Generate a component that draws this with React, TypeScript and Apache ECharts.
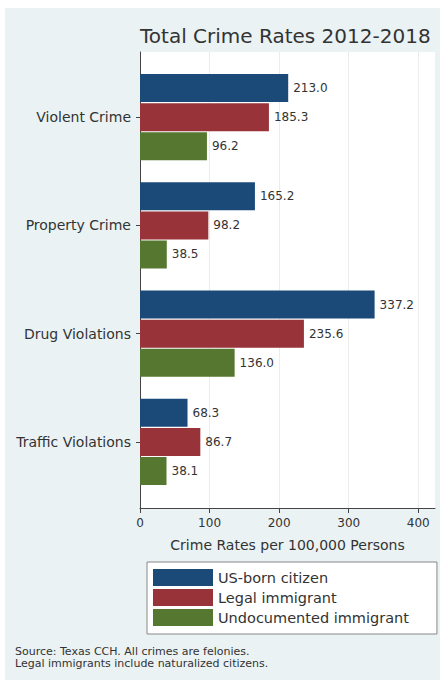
import React, { useEffect, useRef } from "react";
import * as echarts from "echarts";

const categories = ["Violent Crime", "Property Crime", "Drug Violations", "Traffic Violations"];
const seriesNames = ["US-born citizen", "Legal immigrant", "Undocumented immigrant"];
const usBorn = [213.0, 165.2, 337.2, 68.3];
const legalImmigrant = [185.3, 98.2, 235.6, 86.7];
const undocumented = [96.2, 38.5, 136.0, 38.1];
const xTicks = [0, 100, 200, 300, 400];
const colors = ["#1b4a78", "#983339", "#55772f"];
const titleText = "Total Crime Rates 2012-2018";
const axisTitle = "Crime Rates per 100,000 Persons";
const sourceLines = ["Source: Texas CCH. All crimes are felonies.", "Legal immigrants include naturalized citizens."];

const FONT = "DejaVu Sans";

export default function App() {
  const ref = useRef<HTMLDivElement>(null);
  useEffect(() => {
    if (!ref.current) return;
    const chart = echarts.init(ref.current, null, { renderer: "svg" });
    const values = [usBorn, legalImmigrant, undocumented];
    chart.setOption({
      animation: false,
      backgroundColor: "#eaf2f3",
      textStyle: { fontFamily: FONT },
      title: {
        text: titleText,
        left: 140,
        top: 26,
        padding: 0,
        textStyle: { fontSize: 20, fontWeight: "normal", color: "#333", fontFamily: FONT },
      },
      grid: [
        { left: 140, right: 5, top: 63, height: 433 },
        { left: 140, right: 5, top: 52, height: 456, show: true, backgroundColor: "#fff", borderWidth: 0, z: 0 },
      ],
      xAxis: [
        { gridIndex: 0, type: "value", min: 0, max: 424, show: false },
        {
          gridIndex: 1,
          type: "value",
          min: 0,
          max: 424,
          interval: 100,
          axisLine: { show: true, lineStyle: { color: "#444", width: 1 } },
          axisTick: { show: true, length: 5, customValues: xTicks, lineStyle: { color: "#444" } },
          axisLabel: { customValues: xTicks, fontSize: 12, color: "#333", margin: 9, fontFamily: FONT },
          splitLine: { show: true, lineStyle: { color: "#ececec", width: 1 } },
          name: axisTitle,
          nameLocation: "middle",
          nameGap: 30,
          nameTextStyle: { fontSize: 14, color: "#333", fontFamily: FONT },
        },
      ],
      yAxis: [
        {
          gridIndex: 0,
          type: "category",
          data: categories,
          inverse: true,
          axisLine: { show: false },
          axisTick: { show: true, alignWithLabel: true, length: 4, lineStyle: { color: "#444" } },
          axisLabel: { fontSize: 14, color: "#333", margin: 9, fontFamily: FONT },
        },
        {
          gridIndex: 1,
          type: "value",
          min: 0,
          max: 1,
          axisLine: { show: true, lineStyle: { color: "#444", width: 1 } },
          axisTick: { show: false },
          axisLabel: { show: false },
          splitLine: { show: false },
        },
      ],
      legend: {
        orient: "vertical",
        left: 147,
        top: 562,
        itemWidth: 60,
        itemHeight: 17,
        itemGap: 3,
        padding: [7, 28, 8, 6],
        icon: "rect",
        data: seriesNames,
        backgroundColor: "#fff",
        borderColor: "#888",
        borderWidth: 1,
        textStyle: { fontSize: 14.5, color: "#333", fontFamily: FONT },
      },
      graphic: [
        { type: "rect", shape: { x: 0, y: 0, width: 440, height: 8 }, style: { fill: "#fff" }, silent: true },
        { type: "rect", shape: { x: 0, y: 0, width: 5, height: 680 }, style: { fill: "#fff" }, silent: true },
        {
          type: "text",
          left: 15,
          top: 646,
          style: { text: sourceLines.join("\n"), fontSize: 11, lineHeight: 11.5, fill: "#333", fontFamily: FONT },
        },
      ],
      series: seriesNames.map((name, i) => ({
        name,
        type: "bar",
        xAxisIndex: 0,
        yAxisIndex: 0,
        data: values[i],
        barWidth: 28,
        barGap: "4%",
        itemStyle: { color: colors[i] },
        label: {
          show: true,
          position: "right",
          distance: 5,
          fontSize: 12,
          color: "#333",
          fontFamily: FONT,
          formatter: (p: any) => Number(p.value).toFixed(1),
        },
      })),
    });
    return () => chart.dispose();
  }, []);
  return <div ref={ref} style={{ position: "fixed", left: 0, top: 0, width: 440, height: 680 }} />;
}
